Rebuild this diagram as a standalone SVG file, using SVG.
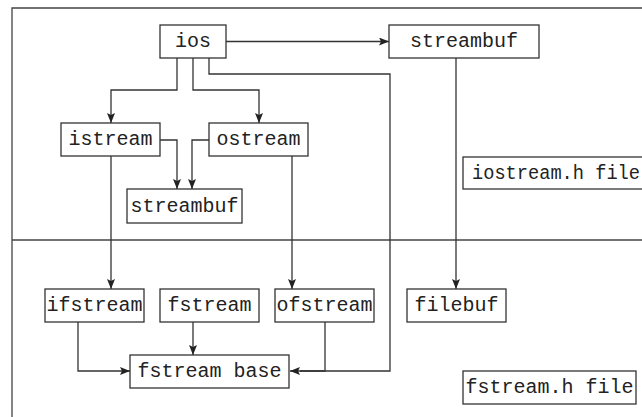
<svg xmlns="http://www.w3.org/2000/svg" width="642" height="417" viewBox="0 0 642 417">
<style>
.box{fill:#fff;stroke:#333;stroke-width:1.3}
.t{font-family:"Liberation Mono","Courier New",monospace;font-size:20px;fill:#222;text-anchor:middle;dominant-baseline:central}
.c{fill:none;stroke:#333;stroke-width:1.3}
.frame{fill:none;stroke:#444;stroke-width:1.3}
</style>
<defs>
<marker id="ah" viewBox="0 0 10 8" refX="10" refY="4" markerWidth="10" markerHeight="8" markerUnits="userSpaceOnUse" orient="auto">
<path d="M0,0 L10,4 L0,8 L2,4 Z" fill="#222"/>
</marker>
</defs>
<rect width="642" height="417" fill="#fff"/>
<g id="frame">
<path class="frame" d="M12,417 V8 H642"/>
<path class="frame" d="M12,240 H642"/>
</g>
<g id="connectors">
<path class="c" d="M226,41.5 H389" marker-end="url(#ah)"/>
<path class="c" d="M177,58 V90 H111 V123" marker-end="url(#ah)"/>
<path class="c" d="M193,58 V90 H259 V123" marker-end="url(#ah)"/>
<path class="c" d="M209,58 V74 H390 V371 H290" marker-end="url(#ah)"/>
<path class="c" d="M160,140 H177 V189" marker-end="url(#ah)"/>
<path class="c" d="M209,140 H192 V189" marker-end="url(#ah)"/>
<path class="c" d="M111,156 V289" marker-end="url(#ah)"/>
<path class="c" d="M292,156 V289" marker-end="url(#ah)"/>
<path class="c" d="M456,58 V289" marker-end="url(#ah)"/>
<path class="c" d="M78,322 V371 H130" marker-end="url(#ah)"/>
<path class="c" d="M193,322 V355" marker-end="url(#ah)"/>
<path class="c" d="M325,322 V371 H300"/>
</g>
<g id="ios"><rect class="box" x="160" y="25" width="66" height="33"/><text class="t" x="193" y="41.5">ios</text></g>
<g id="streambuf-top"><rect class="box" x="389" y="25" width="150" height="33"/><text class="t" x="464" y="41.5">streambuf</text></g>
<g id="istream"><rect class="box" x="61" y="123" width="99" height="33"/><text class="t" x="110.5" y="139.5">istream</text></g>
<g id="ostream"><rect class="box" x="209" y="123" width="99" height="33"/><text class="t" x="258.5" y="139.5">ostream</text></g>
<g id="streambuf-mid"><rect class="box" x="127" y="189" width="115" height="34"/><text class="t" x="184.5" y="206">streambuf</text></g>
<g id="iostream-file"><rect class="box" x="463" y="157" width="200" height="32"/><text class="t" x="472" y="173" style="text-anchor:start" textLength="168" lengthAdjust="spacingAndGlyphs">iostream.h file</text></g>
<g id="ifstream"><rect class="box" x="45" y="289" width="99" height="33"/><text class="t" x="94.5" y="305.5">ifstream</text></g>
<g id="fstream"><rect class="box" x="160" y="289" width="99" height="33"/><text class="t" x="209.5" y="305.5">fstream</text></g>
<g id="ofstream"><rect class="box" x="275" y="289" width="99" height="33"/><text class="t" x="324.5" y="305.5">ofstream</text></g>
<g id="filebuf"><rect class="box" x="407" y="289" width="99" height="33"/><text class="t" x="456.5" y="305.5">filebuf</text></g>
<g id="fstream-base"><rect class="box" x="130" y="355" width="159" height="33"/><text class="t" x="209.5" y="371.5">fstream base</text></g>
<g id="fstream-file"><rect class="box" x="463" y="371" width="173" height="33"/><text class="t" x="549.5" y="387.5">fstream.h file</text></g>
</svg>
